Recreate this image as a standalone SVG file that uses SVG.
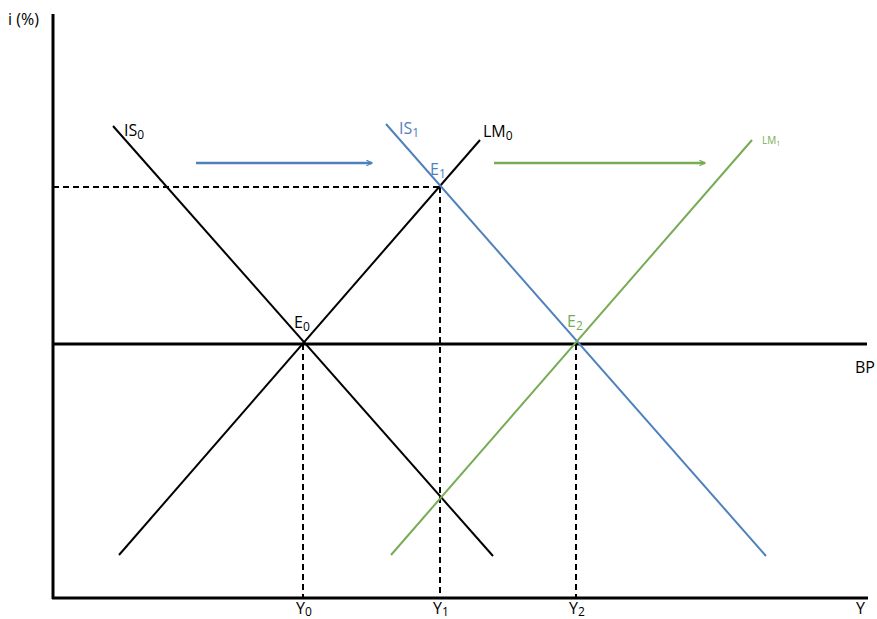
<svg xmlns="http://www.w3.org/2000/svg" width="877" height="619" viewBox="0 0 877 619">
<style>
.ax{stroke:#000;stroke-width:3;fill:none}
.k{stroke:#000;stroke-width:2;fill:none}
.b{stroke:#4f81bd;stroke-width:2;fill:none}
.g{stroke:#77ab54;stroke-width:2;fill:none}
.ar{stroke-width:2.5}
.d{stroke:#000;stroke-width:2;stroke-dasharray:6,4;fill:none}
text{font-family:"Open Sans","Liberation Sans",sans-serif;font-size:16px;fill:#000}
.s{font-size:12px}
.tb{fill:#4f81bd}
.tg{fill:#77ab54}
</style>
<defs>
<marker id="ab" viewBox="0 0 10 10" refX="9" refY="5" markerWidth="7" markerHeight="7" orient="auto" markerUnits="userSpaceOnUse"><path d="M1,1 L9,5 L1,9" fill="none" stroke="#4f81bd" stroke-width="1.8"/></marker>
<marker id="ag" viewBox="0 0 10 10" refX="9" refY="5" markerWidth="7" markerHeight="7" orient="auto" markerUnits="userSpaceOnUse"><path d="M1,1 L9,5 L1,9" fill="none" stroke="#77ab54" stroke-width="1.8"/></marker>
</defs>
<rect width="877" height="619" fill="#fff"/>
<g id="axes">
<line class="ax" x1="53" y1="14" x2="53" y2="599"/>
<line class="ax" x1="52" y1="598" x2="868" y2="598"/>
<text x="8" y="25">i (%)</text>
<text x="856" y="614">Y</text>
</g>
<g id="connectors">
<line class="d" x1="53" y1="187" x2="440" y2="187"/>
<line class="d" x1="303" y1="344" x2="303" y2="597"/>
<line class="d" x1="440" y1="187" x2="440" y2="597"/>
<line class="d" x1="576" y1="344" x2="576" y2="597"/>
<line class="b ar" x1="196" y1="163" x2="372" y2="163" marker-end="url(#ab)"/>
<line class="g ar" x1="494" y1="163" x2="705" y2="163" marker-end="url(#ag)"/>
</g>
<g id="BP">
<line class="ax" x1="53" y1="344" x2="867" y2="344"/>
<text x="855" y="373">BP</text>
</g>
<g id="IS0">
<line class="k" x1="113" y1="126" x2="493" y2="556"/>
<text x="124" y="136">IS<tspan class="s" dy="3">0</tspan></text>
</g>
<g id="LM0">
<line class="k" x1="119" y1="555" x2="480" y2="140"/>
<text x="483" y="137">LM<tspan class="s" dy="3">0</tspan></text>
</g>
<g id="IS1">
<line class="b" x1="386" y1="124" x2="766" y2="556"/>
<text class="tb" x="399" y="134">IS<tspan class="s" dy="3">1</tspan></text>
</g>
<g id="LM1">
<line class="g" x1="391" y1="555" x2="752" y2="140"/>
<text class="tg" x="762" y="144" style="font-size:10px">LM<tspan style="font-size:7px" dy="2">1</tspan></text>
</g>
<g id="E0"><text x="294" y="328">E<tspan class="s" dy="3">0</tspan></text></g>
<g id="E1"><text class="tb" x="430" y="175">E<tspan class="s" dy="3">1</tspan></text></g>
<g id="E2"><text class="tg" x="567" y="327">E<tspan class="s" dy="3">2</tspan></text></g>
<g id="Y0"><text x="296" y="614">Y<tspan class="s" dy="2">0</tspan></text></g>
<g id="Y1"><text x="433" y="614">Y<tspan class="s" dy="2">1</tspan></text></g>
<g id="Y2"><text x="569" y="614">Y<tspan class="s" dy="2">2</tspan></text></g>
</svg>
